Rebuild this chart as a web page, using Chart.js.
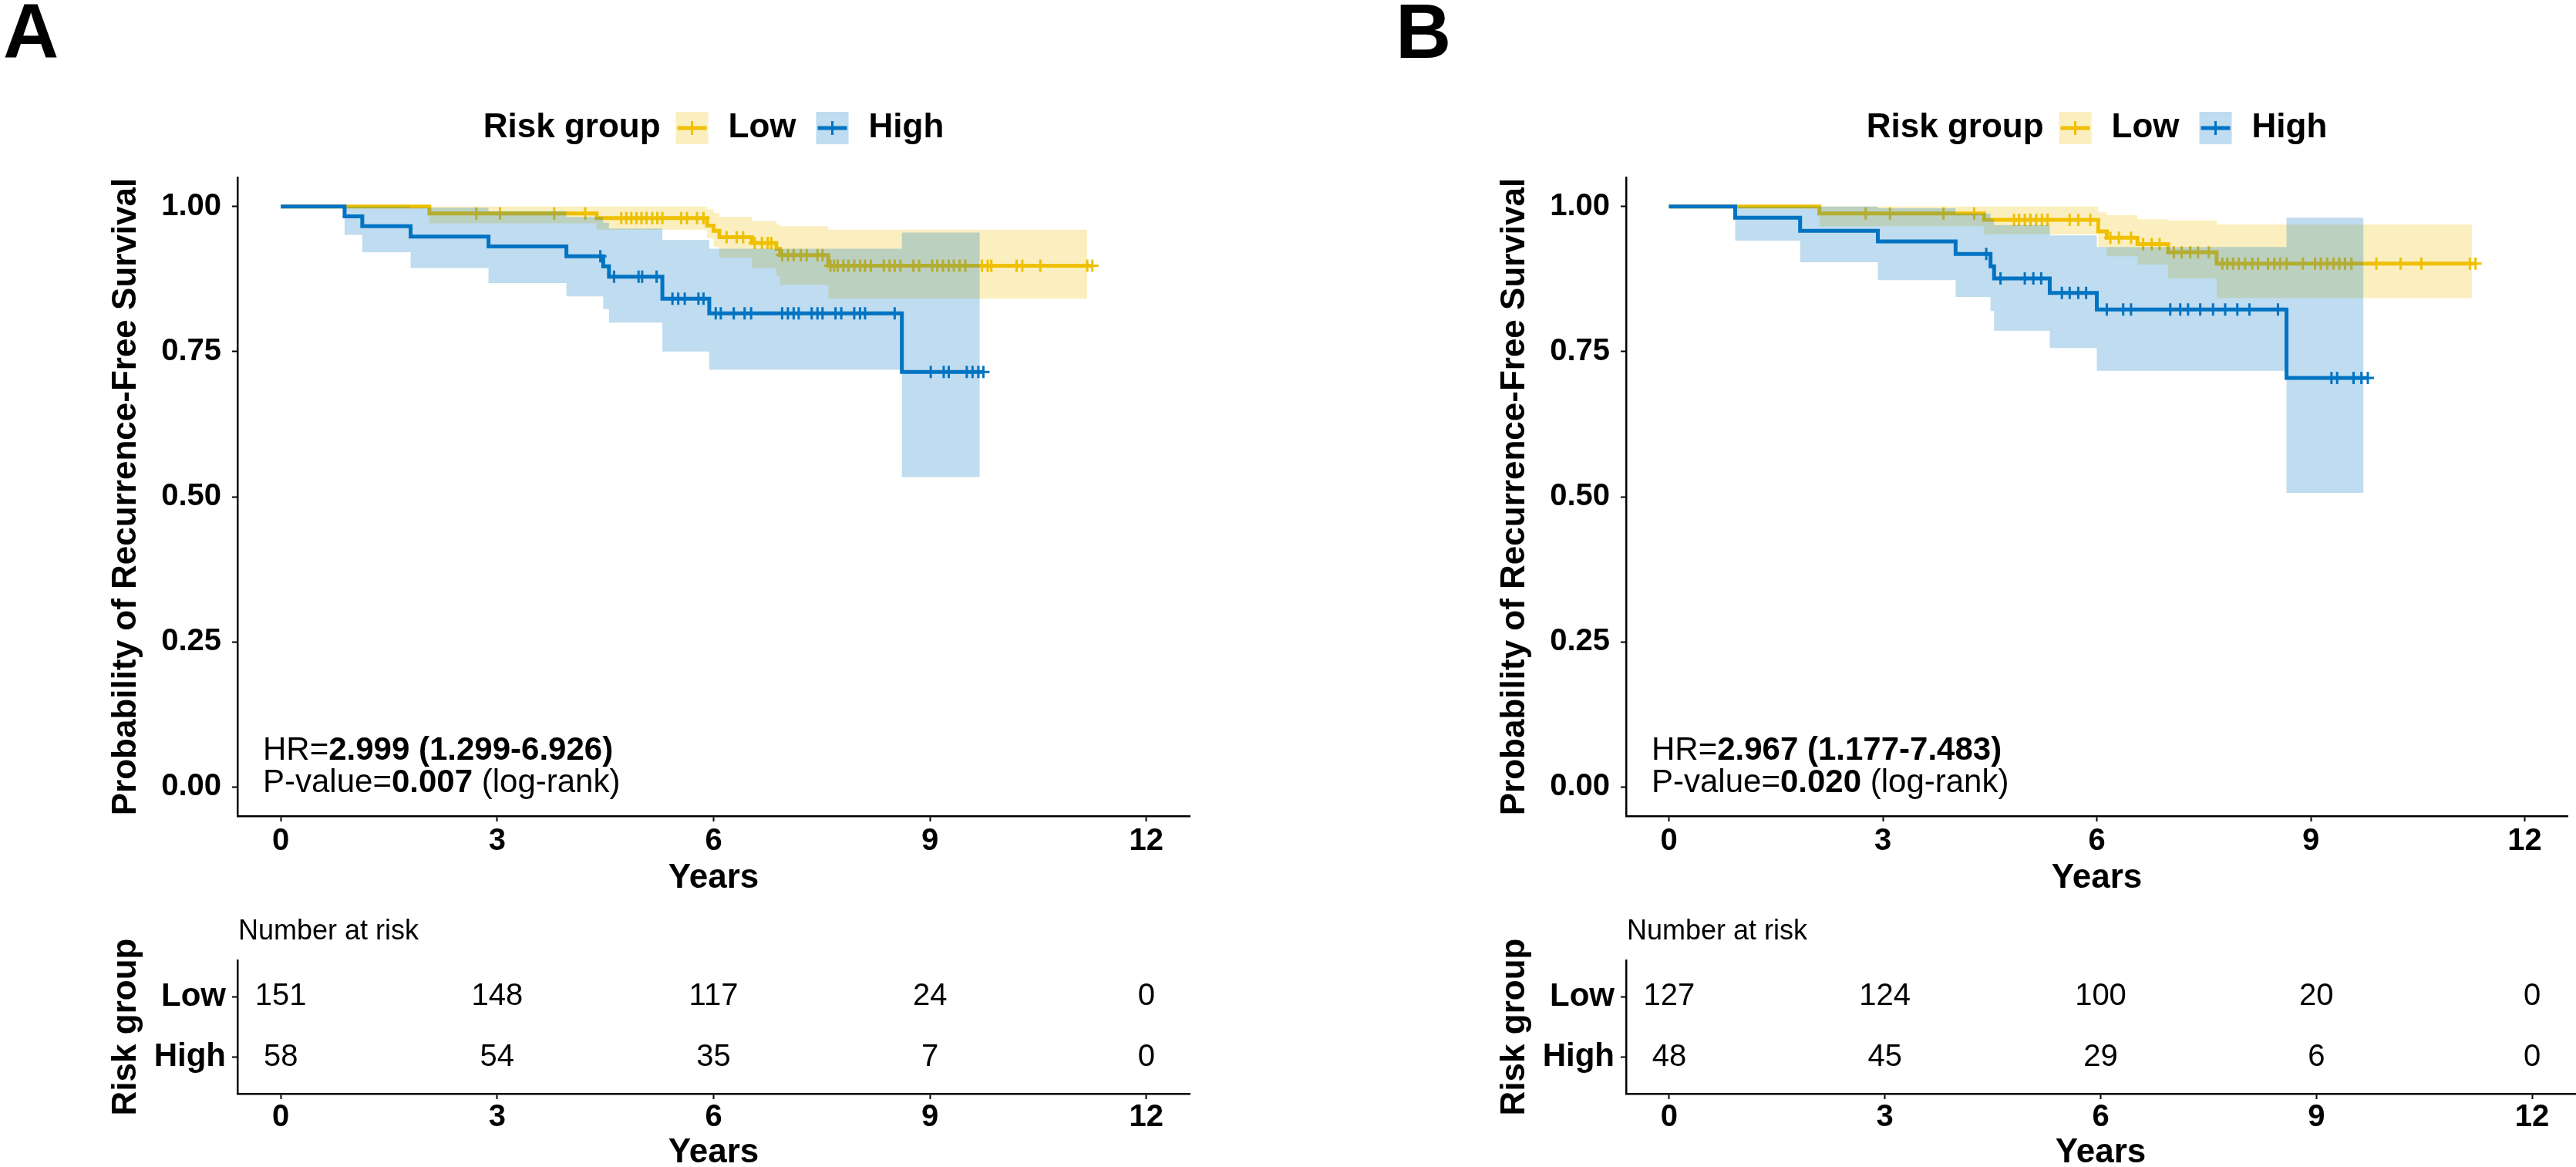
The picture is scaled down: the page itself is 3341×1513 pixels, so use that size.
<!DOCTYPE html>
<html>
<head>
<meta charset="utf-8">
<script src="https://cdn.jsdelivr.net/npm/chart.js@4.4.1/dist/chart.umd.min.js"></script>
<style>
  html, body { margin: 0; padding: 0; background: #fff; overflow: hidden; }
  body { width: 3341px; height: 1513px; position: relative; }
  canvas { position: absolute; }
</style>
</head>
<body>
<canvas id="kmA" width="1670" height="1170" style="left:0;top:0"></canvas>
<canvas id="riskA" width="1670" height="370" style="left:0;top:1170px"></canvas>
<canvas id="kmB" width="1540" height="1170" style="left:1801px;top:0"></canvas>
<canvas id="riskB" width="1540" height="370" style="left:1801px;top:1170px"></canvas>
<script>
const FONT = '"Liberation Sans", Arial, Helvetica, sans-serif';
const LOW_COLOR = "#EFC000";
const HIGH_COLOR = "#0073C2";
const LOW_FILL = "rgba(239, 192, 0, 0.25)";
const HIGH_FILL = "rgba(0, 115, 194, 0.25)";

const yearTicks = [0, 3, 6, 9, 12];
const survTicks = [0, 0.25, 0.5, 0.75, 1];
const groups = ["Low", "High"];
const riskTimes = [0, 3, 6, 9, 12];

// ---- panel A ----
const aLowTime = [0, 2.06, 4.38, 5.91, 6.0, 6.08, 6.53, 6.87, 6.92, 7.59, 11.25];
const aLowSurv = [1, 0.988, 0.98, 0.967, 0.958, 0.947, 0.937, 0.927, 0.916, 0.898, 0.898];
const aLowBandTime = [0, 2.06, 4.38, 5.91, 6.0, 6.08, 6.53, 6.87, 6.92, 7.59, 11.18];
const aLowUpper = [1, 1, 1, 0.995, 0.989, 0.982, 0.975, 0.97, 0.966, 0.96, 0.96];
const aLowLower = [1, 0.971, 0.96, 0.945, 0.93, 0.912, 0.894, 0.88, 0.865, 0.841, 0.841];
const aLowCensor = [2.71, 3.04, 3.79, 4.22, 4.72, 4.79, 4.86, 4.93, 5.0, 5.07, 5.15, 5.22, 5.29, 5.55,
  5.63, 5.77, 5.86, 6.18, 6.32, 6.41, 6.57, 6.67, 6.75, 6.8, 6.95, 7.03, 7.11, 7.21, 7.29, 7.44, 7.51,
  7.62, 7.67, 7.72, 7.8, 7.87, 7.95, 8.03, 8.1, 8.18, 8.36, 8.44, 8.51, 8.59, 8.77, 8.85, 9.03, 9.1,
  9.18, 9.26, 9.33, 9.41, 9.49, 9.72, 9.8, 9.85, 10.2, 10.28, 10.53, 11.18, 11.25];

const aHighTime = [0, 0.885, 1.13, 1.8, 2.88, 3.96, 4.47, 4.55, 5.29, 5.94, 8.61, 9.74];
const aHighSurv = [1, 0.983, 0.966, 0.948, 0.931, 0.914, 0.897, 0.879, 0.841, 0.816, 0.715, 0.715];
const aHighBandTime = [0, 0.885, 1.13, 1.8, 2.88, 3.96, 4.47, 4.55, 5.29, 5.94, 8.61, 9.69];
const aHighUpper = [1, 1, 1, 0.998, 0.992, 0.982, 0.972, 0.962, 0.942, 0.927, 0.955, 0.955];
const aHighLower = [1, 0.951, 0.921, 0.894, 0.868, 0.845, 0.823, 0.8, 0.75, 0.719, 0.534, 0.534];
const aHighCensor = [4.43, 4.62, 4.96, 5.01, 5.21, 5.43, 5.51, 5.6, 5.79, 5.86, 6.03, 6.1, 6.28, 6.43,
  6.52, 6.95, 7.03, 7.11, 7.18, 7.36, 7.44, 7.51, 7.69, 7.77, 7.95, 8.03, 8.1, 8.51, 9.01, 9.19, 9.26,
  9.51, 9.59, 9.67, 9.74];

const aRiskLow = [151, 148, 117, 24, 0];
const aRiskHigh = [58, 54, 35, 7, 0];

// ---- panel B ----
const bLowTime = [0, 2.11, 4.42, 6.02, 6.14, 6.57, 7.0, 7.68, 11.31];
const bLowSurv = [1, 0.988, 0.977, 0.957, 0.946, 0.935, 0.921, 0.9015, 0.9015];
const bLowBandTime = [0, 2.11, 4.42, 6.02, 6.14, 6.57, 7.0, 7.68, 11.26];
const bLowUpper = [1, 1, 1, 0.99, 0.985, 0.978, 0.976, 0.969, 0.969];
const bLowLower = [1, 0.966, 0.952, 0.93, 0.914, 0.9, 0.876, 0.842, 0.842];
const bLowCensor = [2.76, 3.1, 3.85, 4.28, 4.84, 4.91, 4.99, 5.07, 5.15, 5.23, 5.31, 5.62, 5.74, 5.91,
  6.19, 6.31, 6.48, 6.65, 6.77, 6.88, 7.08, 7.19, 7.31, 7.42, 7.57, 7.76, 7.83, 7.91, 7.99, 8.08, 8.18,
  8.26, 8.4, 8.49, 8.57, 8.66, 8.89, 9.06, 9.14, 9.23, 9.32, 9.4, 9.48, 9.57, 9.92, 10.26, 10.55,
  11.23, 11.31];

const bHighTime = [0, 0.93, 1.84, 2.93, 4.02, 4.51, 4.56, 5.34, 6.0, 8.66, 9.8];
const bHighSurv = [1, 0.9805, 0.958, 0.9396, 0.918, 0.897, 0.876, 0.851, 0.8225, 0.7045, 0.7045];
const bHighBandTime = [0, 0.93, 1.84, 2.93, 4.02, 4.51, 4.56, 5.34, 6.0, 8.66, 9.74];
const bHighUpper = [1, 1, 1, 0.997, 0.988, 0.978, 0.968, 0.95, 0.93, 0.9805, 0.9805];
const bHighLower = [1, 0.941, 0.904, 0.873, 0.844, 0.82, 0.786, 0.756, 0.717, 0.5065, 0.5065];
const bHighCensor = [4.45, 4.65, 4.99, 5.11, 5.22, 5.51, 5.62, 5.74, 5.85, 6.14, 6.37, 6.48, 7.03,
  7.17, 7.28, 7.45, 7.63, 7.8, 7.97, 8.14, 8.54, 9.29, 9.37, 9.6, 9.71, 9.8];

const bRiskLow = [127, 124, 100, 20, 0];
const bRiskHigh = [48, 45, 29, 6, 0];

// ---- helpers ----
const pts = (xs, ys) => xs.map((x, i) => ({ x, y: ys[i] }));

function survAt(times, surv, t) {
  let s = surv[0];
  times.forEach((tt, i) => { if (tt <= t) s = surv[i]; });
  return s;
}

function font(size, bold) {
  return { family: FONT, size, weight: bold ? "bold" : "normal" };
}

function drawRuns(ctx, x, y, runs, size) {
  runs.forEach(([txt, bold]) => {
    ctx.font = `${bold ? "bold " : ""}${size}px ${FONT}`;
    ctx.fillText(txt, x, y);
    x += ctx.measureText(txt).width;
  });
}

// legend, panel letter and HR / p-value text
const kmExtras = {
  id: "kmExtras",
  afterDraw(chart, args, opts) {
    const { ctx, chartArea: a } = chart;
    ctx.save();
    ctx.fillStyle = "#000";
    ctx.textAlign = "left";
    ctx.textBaseline = "alphabetic";
    ctx.font = `bold 100px ${FONT}`;
    ctx.fillText(opts.letter, opts.letterX, 75);

    // legend row
    const cy = 166, key = 42;
    ctx.font = `bold 44px ${FONT}`;
    ctx.textBaseline = "middle";
    const items = [
      { label: groups[0], color: LOW_COLOR, fill: LOW_FILL },
      { label: groups[1], color: HIGH_COLOR, fill: HIGH_FILL },
    ];
    const titleW = ctx.measureText("Risk group").width;
    let total = titleW + 20;
    items.forEach((it, i) => {
      total += key + 26 + ctx.measureText(it.label).width + (i < items.length - 1 ? 26 : 0);
    });
    let x = (a.left + a.right) / 2 - total / 2;
    ctx.fillText("Risk group", x, cy);
    x += titleW + 20;
    items.forEach(it => {
      ctx.fillStyle = it.fill;
      ctx.fillRect(x, cy - key / 2, key, key);
      ctx.strokeStyle = it.color;
      ctx.lineWidth = 5;
      ctx.beginPath();
      ctx.moveTo(x + 2, cy);
      ctx.lineTo(x + key - 2, cy);
      ctx.stroke();
      ctx.lineWidth = 3;
      ctx.beginPath();
      ctx.moveTo(x + key / 2, cy - 9);
      ctx.lineTo(x + key / 2, cy + 9);
      ctx.stroke();
      x += key + 26;
      ctx.fillStyle = "#000";
      ctx.fillText(it.label, x, cy);
      x += ctx.measureText(it.label).width + 26;
    });

    ctx.textBaseline = "alphabetic";
    drawRuns(ctx, a.left + 33, a.bottom - 73, [["HR=", false], [opts.hr, true]], 42);
    drawRuns(ctx, a.left + 33, a.bottom - 31,
      [["P-value=", false], [opts.p, true], [" (log-rank)", false]], 42);
    ctx.restore();
  },
};

// numbers at risk written at the positions of the (invisible) table points
const riskLabels = {
  id: "riskLabels",
  afterDatasetsDraw(chart) {
    const { ctx, chartArea: a } = chart;
    ctx.save();
    ctx.fillStyle = "#000";
    ctx.font = `40px ${FONT}`;
    ctx.textAlign = "center";
    ctx.textBaseline = "middle";
    chart.data.datasets.forEach((ds, i) => {
      chart.getDatasetMeta(i).data.forEach((pt, j) => {
        ctx.fillText(String(ds.counts[j]), pt.x, pt.y);
      });
    });
    ctx.textAlign = "left";
    ctx.font = `36px ${FONT}`;
    ctx.fillText("Number at risk", a.left + 1, a.top - 37);
    ctx.restore();
  },
};

function xScale(height, tickPad, titlePad) {
  return {
    type: "linear",
    min: -0.6,
    max: 12.6,
    afterBuildTicks: s => { s.ticks = yearTicks.map(v => ({ value: v })); },
    afterFit: s => { s.height = height; },
    ticks: { font: font(40, true), color: "#000", padding: tickPad, autoSkip: false, maxRotation: 0 },
    grid: { drawOnChartArea: false, tickLength: 7, tickWidth: 2, tickColor: "#000" },
    border: { color: "#000", width: 2.5 },
    title: { display: true, text: "Years", font: font(44, true), color: "#000",
      padding: { top: 0, bottom: titlePad } },
  };
}

function kmChart(id, p) {
  const censorPts = (c, t, s) => c.map(x => ({ x, y: survAt(t, s, x) }));
  const band = (t, y, fill, order) => ({
    data: pts(t, y), stepped: true, borderColor: "transparent", borderWidth: 0,
    pointRadius: 0, fill: fill ? "-1" : false, backgroundColor: fill, order,
  });
  const curve = (t, s, color, order) => ({
    data: pts(t, s), stepped: true, borderColor: color, borderWidth: 5,
    pointRadius: 0, fill: false, order,
  });
  const marks = (data, color, order) => ({
    data, showLine: false, pointStyle: "cross", pointRadius: 8, pointBorderWidth: 3,
    pointBorderColor: color, pointBackgroundColor: color, order,
  });

  new Chart(document.getElementById(id), {
    type: "line",
    data: {
      datasets: [
        band(p.lowBandTime, p.lowUpper, null, 40),
        band(p.lowBandTime, p.lowLower, LOW_FILL, 40),
        curve(p.lowTime, p.lowSurv, LOW_COLOR, 30),
        marks(censorPts(p.lowCensor, p.lowTime, p.lowSurv), LOW_COLOR, 30),
        band(p.highBandTime, p.highUpper, null, 20),
        band(p.highBandTime, p.highLower, HIGH_FILL, 20),
        curve(p.highTime, p.highSurv, HIGH_COLOR, 10),
        marks(censorPts(p.highCensor, p.highTime, p.highSurv), HIGH_COLOR, 10),
      ],
    },
    options: {
      responsive: false,
      animation: false,
      events: [],
      layout: { padding: { top: 230, right: p.padRight, bottom: 0, left: 0 } },
      plugins: {
        legend: { display: false },
        tooltip: { enabled: false },
        kmExtras: { letter: p.letter, letterX: p.letterX, hr: p.hr, p: p.pval },
      },
      scales: {
        x: xScale(112, 2, 4.6),
        y: {
          type: "linear",
          min: -0.05,
          max: 1.05,
          afterBuildTicks: s => { s.ticks = survTicks.map(v => ({ value: v })); },
          afterFit: s => { s.width = 308; },
          ticks: { font: font(40, true), color: "#000", padding: 14, callback: v => v.toFixed(2) },
          grid: { drawOnChartArea: false, tickLength: 7, tickWidth: 2, tickColor: "#000" },
          border: { color: "#000", width: 2.5 },
          title: { display: true, text: "Probability of Recurrence-Free Survival",
            font: font(44, true), color: "#000", padding: { top: 137.6, bottom: 0 } },
        },
      },
    },
    plugins: [kmExtras],
  });
}

function riskChart(id, low, high, padRight) {
  const row = (counts, y) => ({
    data: riskTimes.map(t => ({ x: t, y })), counts, showLine: false, pointRadius: 0,
  });
  new Chart(document.getElementById(id), {
    type: "line",
    data: { datasets: [row(low, 1), row(high, 2)] },
    options: {
      responsive: false,
      animation: false,
      events: [],
      layout: { padding: { top: 75, right: padRight, bottom: 0, left: 0 } },
      plugins: { legend: { display: false }, tooltip: { enabled: false } },
      scales: {
        x: xScale(122, 0, 18.6),
        y: {
          type: "linear",
          reverse: true,
          min: 0.4,
          max: 2.6,
          afterBuildTicks: s => { s.ticks = groups.map((g, i) => ({ value: i + 1 })); },
          afterFit: s => { s.width = 308; },
          ticks: { font: font(42, true), color: "#000", padding: 8, callback: v => groups[v - 1] },
          grid: { drawOnChartArea: false, tickLength: 7, tickWidth: 2, tickColor: "#000" },
          border: { color: "#000", width: 2.5 },
          title: { display: true, text: "Risk group", font: font(44, true), color: "#000",
            padding: { top: 137.6, bottom: 0 } },
        },
      },
    },
    plugins: [riskLabels],
  });
}

kmChart("kmA", {
  letter: "A", letterX: 4, padRight: 127, hr: "2.999 (1.299-6.926)", pval: "0.007",
  lowTime: aLowTime, lowSurv: aLowSurv, lowBandTime: aLowBandTime, lowUpper: aLowUpper,
  lowLower: aLowLower, lowCensor: aLowCensor,
  highTime: aHighTime, highSurv: aHighSurv, highBandTime: aHighBandTime, highUpper: aHighUpper,
  highLower: aHighLower, highCensor: aHighCensor,
});
riskChart("riskA", aRiskLow, aRiskHigh, 127);

kmChart("kmB", {
  letter: "B", letterX: 9, padRight: 1, hr: "2.967 (1.177-7.483)", pval: "0.020",
  lowTime: bLowTime, lowSurv: bLowSurv, lowBandTime: bLowBandTime, lowUpper: bLowUpper,
  lowLower: bLowLower, lowCensor: bLowCensor,
  highTime: bHighTime, highSurv: bHighSurv, highBandTime: bHighBandTime, highUpper: bHighUpper,
  highLower: bHighLower, highCensor: bHighCensor,
});
riskChart("riskB", bRiskLow, bRiskHigh, 1);
</script>
</body>
</html>
